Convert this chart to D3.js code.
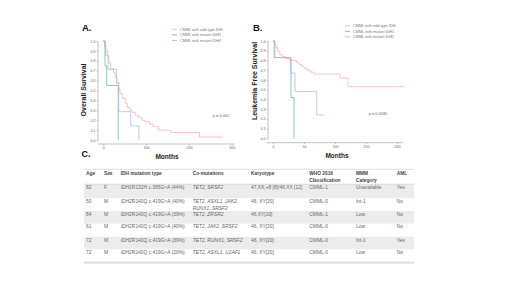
<!DOCTYPE html>
<html><head><meta charset="utf-8">
<script src="https://cdn.jsdelivr.net/npm/d3@7"></script>
<style>html,body{margin:0;padding:0;background:#fff}svg{display:block}text{font-family:"Liberation Sans",Arial,sans-serif}</style>
</head><body><svg id="c" width="520" height="292"></svg>
<script>
// ---------- DATA ----------
const seriesNames = ["CMML with wild-type IDH", "CMML with mutant IDH1", "CMML with mutant IDH2"];
// Overall survival (months, survival fraction)
const osWildType = [[0,1],[3,0.95],[6,0.9],[10,0.85],[13,0.78],[17,0.72],[24,0.68],[28,0.63],[32,0.58],[36,0.52],[39,0.47],[44,0.42],[51,0.37],[56,0.33],[62,0.30],[67,0.28],[75,0.25],[82,0.23],[90,0.20],[97,0.185],[108,0.16],[116,0.135],[129,0.10],[158,0.075],[225,0.03],[280,0.03]];
const osIDH1 = [[0,1],[4,0.75],[8,0.55],[35,0]];
const osIDH2 = [[0,1],[5,0.857],[11,0.714],[31,0.571],[36,0.286],[64,0.143],[83,0]];
// Leukemia free survival
const lfsWildType = [[0,1],[3,0.96],[5,0.93],[8,0.89],[11,0.86],[15,0.84],[20,0.82],[26,0.80],[38,0.78],[42,0.76],[46,0.74],[50,0.72],[55,0.70],[60,0.68],[66,0.66],[108,0.62],[121,0.53],[211,0.53]];
const lfsIDH1 = [[0,1],[2,0.83],[29,0.42],[34,0]];
const lfsIDH2 = [[0,1],[3,0.83],[28.5,0.67],[35.5,0.48],[70.5,0.24],[82,0.24]];
const pValueOS = "p = 0.062";
const pValueLFS = "p = 0.0090";
const osMonthTicks = [0,100,200,300];
const lfsMonthTicks = [0,50,100,150,200];
const survivalTicks = [0,0.1,0.2,0.3,0.4,0.5,0.6,0.7,0.8,0.9,1.0];

// Table
const tableHeaders = [["Age"],["Sex"],["IDH mutation type"],["Co-mutations"],["Karyotype"],["WHO 2016","Classification"],["MMM","Category"],["AML"]];
const ages = ["82","50","84","61","72","72"];
const sexes = ["F","M","M","M","M","M"];
const idhGenes = ["IDH1","IDH2","IDH2","IDH2","IDH2","IDH2"];
const idhVariants = ["R132H c.395G>A (44%)","R140Q c.419G>A (40%)","R140Q c.419G>A (39%)","R140Q c.419G>A (40%)","R140Q c.419G>A (39%)","R140Q c.419G>A (20%)"];
const coMutations = [["TET2, SRSF2"],["TET2, ASXL1, JAK2,","RUNX1, SRSF2"],["TET2, ZRSR2"],["TET2, JAK2, SRSF2"],["TET2, RUNX1, SRSF2"],["TET2, ASXL1, U2AF1"]];
const karyotypes = ["47,XX,+8 [8]/46,XX [12]","46, XY[20]","46,XY[20]","46, XY[20]","46, XY[20]","46, XY[20]"];
const whoClass = ["CMML-1","CMML-0","CMML-1","CMML-0","CMML-0","CMML-0"];
const mmmCategory = ["Unavailable","Int-1","Low","Low","Int-1","Low"];
const amlStatus = ["Yes","No","No","No","Yes","No"];

// ---------- STYLE ----------
const colors = ["#efb2b8", "#5dbb9c", "#a9b9e6"];
const svg = d3.select("#c");
svg.append("rect").attr("width",520).attr("height",292).attr("fill","#fff");

function panel(cfg) {
  const g = svg.append("g");
  const x = d3.scaleLinear().domain(cfg.xDomain).range(cfg.xRange);
  const y = d3.scaleLinear().domain([0,1]).range(cfg.yRange);
  const ya = g.append("g").attr("transform",`translate(${cfg.yAxisX},0)`)
    .call(d3.axisLeft(y).tickValues(survivalTicks).tickFormat(d3.format(".1f")).tickSize(1.3).tickSizeOuter(0).tickPadding(1.2));
  ya.select(".domain").remove();
  ya.append("line").attr("x1",0).attr("x2",0).attr("y1",cfg.yRange[1]).attr("y2",cfg.yRange[0]+1);
  const xa = g.append("g").attr("transform",`translate(0,${cfg.xAxisY})`)
    .call(d3.axisBottom(x).tickValues(cfg.xTicks).tickSize(1.3).tickSizeOuter(0).tickPadding(1.5));
  xa.select(".domain").remove();
  xa.append("line").attr("x1",cfg.xLine[0]).attr("x2",cfg.xLine[1]).attr("y1",0).attr("y2",0);
  [ya,xa].forEach(a=>{
    a.selectAll("line").attr("stroke","#9a9a9a").attr("stroke-width",0.6);
    a.selectAll("text").attr("font-size",3.6).attr("fill","#666").attr("font-family","Liberation Sans, Arial, sans-serif");
  });
  const line = d3.line().x(d=>x(d[0])).y(d=>y(d[1])).curve(d3.curveStepAfter);
  cfg.series.forEach((s,i)=>{
    g.append("path").attr("d",line(s)).attr("fill","none").attr("stroke",colors[i]).attr("stroke-width",0.75);
  });
  seriesNames.forEach((n,i)=>{
    const ly = cfg.legend[1] + i*5.6;
    g.append("line").attr("x1",cfg.legend[0]).attr("x2",cfg.legend[0]+5).attr("y1",ly).attr("y2",ly)
      .attr("stroke",colors[i]).attr("stroke-width",0.8);
    g.append("text").attr("x",cfg.legend[0]+8).attr("y",ly+1.3).attr("font-size",3.8).attr("fill","#777").text(n);
  });
  g.append("text").attr("transform",`translate(${cfg.yLabelPos[0]},${cfg.yLabelPos[1]}) rotate(-90)`)
    .attr("text-anchor","middle").attr("font-size",7).attr("font-weight","bold").attr("fill","#222").text(cfg.yLabel);
  g.append("text").attr("x",cfg.xLabelPos[0]).attr("y",cfg.xLabelPos[1]).attr("text-anchor","middle")
    .attr("font-size",6.5).attr("font-weight","bold").attr("fill","#222").text("Months");
  g.append("text").attr("x",cfg.pPos[0]).attr("y",cfg.pPos[1]).attr("text-anchor","middle")
    .attr("font-size",3.9).attr("fill","#666").text(cfg.p);
  g.append("text").attr("x",cfg.letterPos[0]).attr("y",cfg.letterPos[1])
    .attr("font-size",9.5).attr("font-weight","bold").attr("fill","#111").text(cfg.letter);
}

panel({xDomain:[0,300], xRange:[103.3,231.7], yRange:[140,41], yAxisX:98, xAxisY:144, xLine:[98,235],
  xTicks:osMonthTicks, series:[osWildType,osIDH1,osIDH2], legend:[172,29.3],
  yLabel:"Overall Survival", yLabelPos:[86,90], xLabelPos:[167,159], p:pValueOS, pPos:[221,117.3],
  letter:"A.", letterPos:[82,30.5]});
panel({xDomain:[0,200], xRange:[273,397], yRange:[138.3,41], yAxisX:268, xAxisY:142.7, xLine:[266.7,403],
  xTicks:lfsMonthTicks, series:[lfsWildType,lfsIDH1,lfsIDH2], legend:[345,25.7],
  yLabel:"Leukemia Free Survival", yLabelPos:[257,81], xLabelPos:[337,158], p:pValueLFS, pPos:[378,115.3],
  letter:"B.", letterPos:[253,30.5]});

// ---------- TABLE ----------
const tg = svg.append("g");
tg.append("text").attr("x",81.5).attr("y",157).attr("font-size",9).attr("font-weight","bold").attr("fill","#111").text("C.");
const colX = [86, 104, 120.7, 192.7, 251, 309.3, 356, 396.7];
const tLeft = 84, tRight = 414;
const rowTops = [184.3, 198.3, 211, 223.6, 236.7, 249.3];
const rowBottom = 262;
rowTops.forEach((t,i)=>{
  if (i%2===0) {
    const b = i+1<rowTops.length ? rowTops[i+1] : rowBottom;
    tg.append("rect").attr("x",tLeft).attr("y",t).attr("width",tRight-tLeft).attr("height",b-t).attr("fill","#ececec");
  }
});
tg.append("line").attr("x1",tLeft).attr("x2",tRight).attr("y1",169.3).attr("y2",169.3).attr("stroke","#c8c8c8").attr("stroke-width",0.6);
tg.append("line").attr("x1",tLeft).attr("x2",tRight).attr("y1",184.2).attr("y2",184.2).attr("stroke","#bdbdbd").attr("stroke-width",0.5);
tg.append("rect").attr("x",tLeft).attr("y",261.6).attr("width",tRight-tLeft).attr("height",2).attr("fill","#dcdcdc");

tableHeaders.forEach((h,c)=>{
  h.forEach((ln,k)=>{
    tg.append("text").attr("x",colX[c]).attr("y",175+k*7.4).attr("font-size",4.8).attr("font-weight","bold").attr("fill","#444").text(ln);
  });
});
const fs = 4.9, fill = "#666";
rowTops.forEach((t,i)=>{
  const by = t + 4.8;
  const cell = (c, txt, italic) => tg.append("text").attr("x",colX[c]).attr("y",by).attr("font-size",fs).attr("fill",fill)
      .attr("font-style",italic?"italic":"normal").text(txt);
  cell(0, ages[i]); cell(1, sexes[i]);
  const m = tg.append("text").attr("x",colX[2]).attr("y",by).attr("font-size",fs).attr("fill",fill);
  m.append("tspan").attr("font-style","italic").text(idhGenes[i]);
  m.append("tspan").text(idhVariants[i]);
  coMutations[i].forEach((ln,k)=>{
    tg.append("text").attr("x",colX[3]).attr("y",by+k*6.6).attr("font-size",fs).attr("fill",fill).attr("font-style","italic").text(ln);
  });
  cell(4, karyotypes[i]); cell(5, whoClass[i]); cell(6, mmmCategory[i]); cell(7, amlStatus[i]);
});
</script></body></html>
